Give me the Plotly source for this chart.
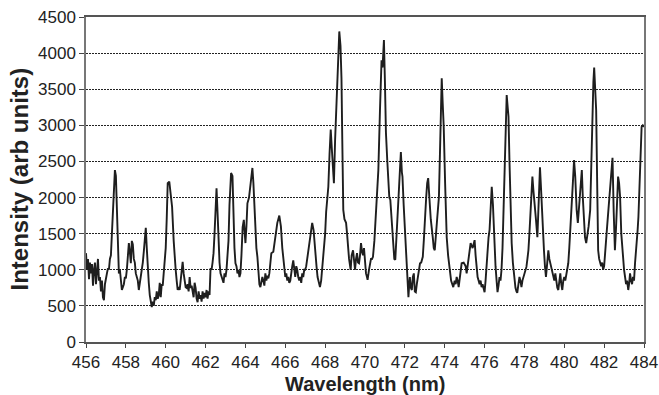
import plotly.graph_objects as go

wavelength = [
456.00,456.05,456.10,456.15,456.20,456.25,456.30,456.35,456.40,456.45,456.50,456.55,456.60,456.65,456.70,456.75,456.80,456.85,456.90,456.95,
457.00,457.05,457.10,457.15,457.20,457.25,457.30,457.38,457.45,457.50,457.55,457.60,457.65,457.70,457.75,457.80,457.85,457.90,457.95,
458.00,458.05,458.10,458.15,458.20,458.25,458.30,458.35,458.40,458.45,458.50,458.55,458.60,458.65,458.70,458.75,458.80,458.85,458.90,458.95,
459.00,459.05,459.10,459.15,459.20,459.25,459.30,459.35,459.40,459.45,459.50,459.55,459.60,459.65,459.70,459.75,459.80,459.85,459.90,459.95,
460.00,460.05,460.10,460.18,460.25,460.32,460.40,460.45,460.50,460.55,460.60,460.65,460.70,460.75,460.80,460.85,460.90,460.95,
461.00,461.05,461.10,461.15,461.20,461.25,461.30,461.35,461.40,461.45,461.50,461.55,461.60,461.65,461.70,461.75,461.80,461.85,461.90,461.95,
462.00,462.05,462.10,462.15,462.20,462.25,462.30,462.35,462.40,462.45,462.50,462.55,462.60,462.65,462.70,462.75,462.80,462.85,462.90,462.95,
463.00,463.05,463.10,463.15,463.20,463.28,463.35,463.40,463.45,463.50,463.55,463.60,463.65,463.70,463.75,463.80,463.86,463.92,
464.00,464.05,464.10,464.18,464.25,464.35,464.40,464.45,464.50,464.55,464.60,464.65,464.70,464.75,464.80,464.85,464.90,464.95,
465.00,465.05,465.10,465.15,465.20,465.30,465.40,465.50,465.60,465.70,465.78,465.85,465.90,465.95,
466.00,466.05,466.10,466.15,466.20,466.25,466.30,466.35,466.40,466.45,466.50,466.55,466.60,466.65,466.70,466.75,466.80,466.85,466.90,466.95,
467.00,467.05,467.10,467.15,467.20,467.27,467.35,467.42,467.50,467.57,467.62,467.67,467.74,467.80,467.85,467.90,467.95,
468.00,468.05,468.10,468.16,468.22,468.28,468.33,468.38,468.44,468.50,468.58,468.65,468.71,468.77,468.82,468.86,468.91,468.97,
469.05,469.10,469.15,469.20,469.28,469.33,469.40,469.45,469.50,469.55,469.60,469.65,469.70,469.75,469.80,469.85,469.90,469.95,
470.00,470.05,470.10,470.13,470.20,470.25,470.30,470.35,470.40,470.47,470.55,470.62,470.67,470.75,470.83,470.88,470.95,
471.00,471.05,471.12,471.17,471.22,471.27,471.35,471.42,471.47,471.52,471.57,471.62,471.67,471.72,471.80,471.85,471.88,471.94,
472.00,472.05,472.10,472.15,472.18,472.22,472.25,472.30,472.35,472.40,472.45,472.50,472.55,472.60,472.65,472.70,472.76,472.82,472.90,472.95,
473.00,473.07,473.12,473.17,473.23,473.30,473.40,473.45,473.50,473.55,473.62,473.71,473.77,473.85,473.90,473.95,
474.02,474.10,474.17,474.25,474.32,474.38,474.43,474.50,474.55,474.60,474.65,474.70,474.75,474.80,474.85,474.95,
475.05,475.10,475.20,475.30,475.40,475.50,475.55,475.60,475.65,475.70,475.75,475.80,475.85,475.90,475.95,
476.00,476.05,476.10,476.15,476.20,476.25,476.30,476.36,476.42,476.47,476.50,476.55,476.60,476.65,476.70,476.75,476.80,476.85,476.90,476.94,
477.00,477.05,477.11,477.16,477.20,477.25,477.30,477.36,477.42,477.48,477.55,477.60,477.64,477.70,477.75,477.80,477.85,477.90,477.95,
478.00,478.05,478.10,478.15,478.20,478.25,478.32,478.40,478.45,478.52,478.58,478.65,478.70,478.78,478.82,478.88,478.93,478.98,
479.03,479.08,479.13,479.20,479.25,479.30,479.35,479.40,479.45,479.50,479.55,479.60,479.65,479.70,479.75,479.80,479.85,479.90,479.95,
480.00,480.05,480.10,480.15,480.20,480.25,480.32,480.37,480.43,480.49,480.55,480.62,480.68,480.75,480.82,480.88,480.93,480.98,
481.04,481.10,481.15,481.22,481.30,481.36,481.42,481.46,481.50,481.55,481.60,481.65,481.70,481.75,481.80,481.85,481.90,481.95,
482.00,482.05,482.10,482.15,482.22,482.29,482.35,482.42,482.48,482.54,482.60,482.65,482.70,482.75,482.80,482.86,482.93,
483.00,483.05,483.10,483.15,483.21,483.25,483.30,483.35,483.40,483.45,483.50,483.55,483.62,483.68,483.72,483.78,483.84,483.88,483.94,
484.00]

intensity = [
1230,1000,1150,870,1100,950,1080,780,1000,1100,800,950,1150,850,900,700,850,620,580,800,
900,950,1020,1000,1150,1200,1500,2000,2380,2300,1700,1150,950,1000,800,720,760,800,900,
880,1000,1200,1370,1250,1090,1400,1350,1150,1100,950,900,850,720,800,900,1000,1100,1250,1450,
1580,1300,950,820,650,550,485,560,500,620,580,700,600,650,820,620,800,780,1000,1230,
1300,1700,2200,2220,2050,1870,1400,1100,1000,850,720,760,720,850,1000,1110,950,850,
760,750,800,700,900,750,780,700,620,820,750,600,550,700,600,650,560,700,600,680,
620,720,600,700,650,1020,1000,1100,1230,1500,1900,2130,1800,1400,1100,950,900,870,820,950,
900,1000,1180,1400,1900,2340,2300,1700,1300,1090,1050,950,1000,900,950,1200,1590,1690,
1370,1600,1920,2000,2200,2410,2200,1830,1500,1300,1180,950,800,760,850,900,850,780,
950,850,920,880,950,1230,1250,1450,1650,1750,1600,1300,1180,1050,
900,950,850,900,820,850,1000,1050,1130,950,900,1050,1000,900,850,900,820,950,900,1000,
1000,1050,1150,1200,1300,1500,1650,1550,1200,1040,900,850,760,850,1000,1100,1300,
1500,1800,2000,2150,2600,2940,2700,2500,2200,2800,3490,4000,4300,4100,3650,2800,1830,1700,
1650,1500,1300,1150,1000,1200,1270,1150,1000,1150,1230,1100,1090,1200,1370,1250,1200,1300,
1100,950,900,860,1000,1100,1150,1150,1180,1400,1800,2200,2380,3200,3900,3800,4180,
3600,2900,2500,2200,2000,1970,1650,1270,1150,1140,1400,1700,1920,2200,2630,2350,2290,1900,
1550,1300,1040,800,620,800,900,750,720,900,950,700,690,800,900,950,1090,1100,1180,1400,
1730,2000,2200,2270,2000,1700,1450,1300,1270,1410,1700,2010,2600,3650,3300,2980,
2200,1450,1200,1000,850,800,760,850,800,900,850,760,900,950,1090,1100,
1050,950,1200,1370,1300,1410,1200,1000,900,850,800,850,760,800,720,
690,850,1090,1300,1450,1550,1800,2150,1900,1500,1230,1050,860,690,780,900,850,1000,1300,1650,
2300,2900,3420,3250,3120,2500,1900,1370,1100,900,750,700,680,800,900,850,760,850,900,
950,1000,1040,1150,1270,1500,1900,2290,2100,1800,1690,1450,1900,2420,2200,1800,1450,1270,
1050,900,1050,1270,1150,1090,1000,950,900,850,950,800,750,720,850,950,800,720,850,
900,850,950,1000,1090,1300,1600,1830,2200,2520,2290,1830,1650,1900,2240,2380,2000,1700,
1450,1370,1450,1600,1830,2600,3450,3600,3800,3500,3210,2200,1270,1150,1100,1050,1100,1000,
1050,1200,1370,1600,1850,2100,2300,2550,1800,1270,1600,2000,2290,2200,2010,1500,1180,
1000,900,800,850,720,800,950,850,800,900,850,1090,1300,1550,1730,2200,2700,2980,3000,
2980]

x_ticks = list(range(456, 485, 2))
y_ticks = list(range(0, 4501, 500))
x_title = "Wavelength (nm)"
y_title = "Intensity (arb units)"

fig = go.Figure()
fig.add_trace(go.Scatter(x=wavelength, y=intensity, mode="lines",
                         line=dict(color="#1e1e1e", width=1.9), showlegend=False))

tick_font = dict(family="Liberation Sans, Arial, sans-serif", size=17, color="#222222")

fig.update_layout(
    width=659, height=395,
    margin=dict(l=86, r=15, t=17, b=53),
    paper_bgcolor="white", plot_bgcolor="white",
    font=dict(family="Liberation Sans, Arial, sans-serif", size=14, color="#222222"),
    xaxis=dict(range=[456, 484], tickvals=x_ticks, ticktext=[str(v) for v in x_ticks],
               showgrid=False, zeroline=False, showline=True, linecolor="#555555", linewidth=1.5,
               mirror=True, ticks="outside", ticklen=4, tickcolor="#444444",
               tickfont=tick_font, automargin=False, ticklabeloverflow="allow"),
    yaxis=dict(range=[0, 4500], tickvals=y_ticks, ticktext=[str(v) for v in y_ticks],
               showgrid=True, gridcolor="#222222", gridwidth=1, griddash="2px,1px",
               zeroline=False, showline=True, linecolor="#777777", linewidth=1.5,
               mirror=True, ticks="outside", ticklen=5, tickcolor="#444444",
               tickfont=tick_font, automargin=False, ticklabeloverflow="allow"),
    annotations=[
        dict(text="<b>%s</b>" % x_title, xref="paper", yref="paper", x=0.5, y=0,
             xanchor="center", yanchor="middle", yshift=-42, showarrow=False,
             font=dict(family="Liberation Sans, Arial, sans-serif", size=20, color="#222222")),
        dict(text="<b>%s</b>" % y_title, xref="paper", yref="paper", x=0, y=0.5,
             xanchor="center", yanchor="middle", xshift=-67, textangle=-90, showarrow=False,
             font=dict(family="Liberation Sans, Arial, sans-serif", size=24, color="#222222")),
    ],
)

fig.write_html("out.html", config={"displayModeBar": False},
               post_script="document.body.style.margin='0';document.body.style.overflow='hidden';")
